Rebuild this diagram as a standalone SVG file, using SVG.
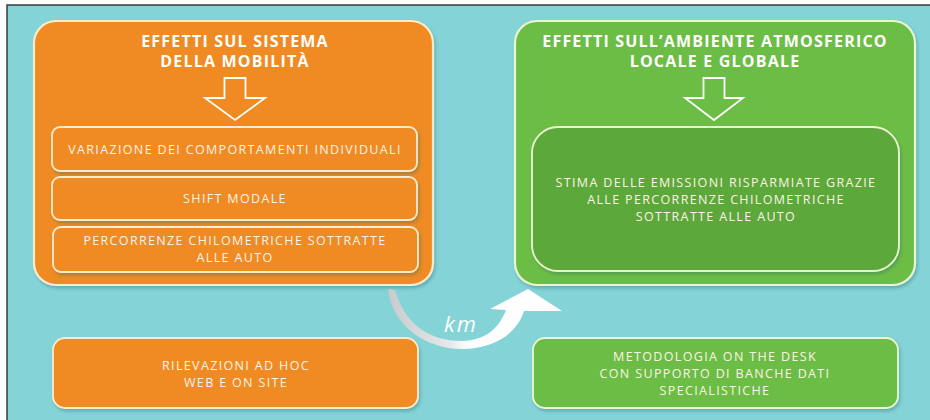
<svg xmlns="http://www.w3.org/2000/svg" width="930" height="420" viewBox="0 0 930 420">
<defs>
<style>
.bg{fill:#84d3d7}
.frame{fill:none;stroke:#3a3a3a;stroke-width:1.5}
.omain{fill:#ef8b22;stroke:#fbecd0;stroke-width:2.2}
.osub{fill:#ef8b22;stroke:#fbecd0;stroke-width:1.8}
.gmain{fill:#6cbd45;stroke:#eaf6d2;stroke-width:2.2}
.ginner{fill:#5da83a;stroke:#eaf6d2;stroke-width:1.8}
.gsub{fill:#6cbd45;stroke:#eaf6d2;stroke-width:1.8}
.title{font-family:"Open Sans","Liberation Sans",sans-serif;font-weight:bold;font-size:16px;fill:#ffffff;text-anchor:middle;letter-spacing:1.2px}
.body{font-family:"Open Sans","Liberation Sans",sans-serif;font-size:12.5px;fill:#fdf3e6;text-anchor:middle;letter-spacing:1.35px}
.hollow{fill:none;stroke:#ffffff;stroke-width:1.8;stroke-linejoin:miter}
.km{font-family:"Open Sans","Liberation Sans",sans-serif;font-style:italic;font-size:22px;fill:#ffffff;letter-spacing:2px}
</style>
<filter id="sh" x="-5%" y="-5%" width="110%" height="115%">
<feDropShadow dx="1.5" dy="2.5" stdDeviation="1.8" flood-color="#2c6a6c" flood-opacity="0.35"/>
</filter>
<linearGradient id="kmg" gradientUnits="userSpaceOnUse" x1="388" y1="0" x2="470" y2="0">
<stop offset="0" stop-color="#c7cbcd"/>
<stop offset="0.75" stop-color="#e6e8e9"/>
<stop offset="1" stop-color="#ffffff"/>
</linearGradient>
</defs>
<rect x="0" y="0" width="930" height="420" fill="#ffffff"/>
<rect class="bg" x="7" y="5" width="923" height="415"/>
<path class="frame" d="M7 420 V5 H930"/>

<g id="orange-main">
<rect class="omain" x="34" y="21" width="399" height="264" rx="22" filter="url(#sh)"/>
<text class="title" x="235" y="47">EFFETTI SUL SISTEMA</text>
<text class="title" x="235" y="67">DELLA MOBILITÀ</text>
<path class="hollow" d="M224.5 78 H245.5 V98 H265 L235 120 L205 98 H224.5 Z"/>
</g>

<g id="box-variazione">
<rect class="osub" x="52" y="127" width="365" height="44" rx="8" filter="url(#sh)"/>
<text class="body" x="235" y="154">VARIAZIONE DEI COMPORTAMENTI INDIVIDUALI</text>
</g>

<g id="box-shift">
<rect class="osub" x="52" y="177" width="365" height="43" rx="8" filter="url(#sh)"/>
<text class="body" x="235" y="203">SHIFT MODALE</text>
</g>

<g id="box-percorrenze">
<rect class="osub" x="53" y="227" width="365" height="45" rx="8" filter="url(#sh)"/>
<text class="body" x="235" y="245">PERCORRENZE CHILOMETRICHE SOTTRATTE</text>
<text class="body" x="235" y="262">ALLE AUTO</text>
</g>

<g id="box-rilevazioni">
<rect class="osub" x="53" y="338" width="365" height="70" rx="12" filter="url(#sh)"/>
<text class="body" x="236" y="370">RILEVAZIONI AD HOC</text>
<text class="body" x="236" y="387">WEB E ON SITE</text>
</g>

<g id="green-main">
<rect class="gmain" x="515" y="21" width="400" height="264" rx="22" filter="url(#sh)"/>
<text class="title" x="715" y="47">EFFETTI SULL’AMBIENTE ATMOSFERICO</text>
<text class="title" x="715" y="67">LOCALE E GLOBALE</text>
<path class="hollow" d="M703.5 78 H724.5 V98 H743 L714 120 L685 98 H703.5 Z"/>
</g>

<g id="box-stima">
<rect class="ginner" x="532" y="127" width="367" height="144" rx="26" filter="url(#sh)"/>
<text class="body" x="716" y="187">STIMA DELLE EMISSIONI RISPARMIATE GRAZIE</text>
<text class="body" x="716" y="204">ALLE PERCORRENZE  CHILOMETRICHE</text>
<text class="body" x="716" y="221">SOTTRATTE ALLE AUTO</text>
</g>

<g id="box-metodologia">
<rect class="gsub" x="533" y="338" width="365" height="70" rx="12" filter="url(#sh)"/>
<text class="body" x="715" y="361">METODOLOGIA ON THE DESK</text>
<text class="body" x="715" y="378">CON SUPPORTO DI BANCHE DATI</text>
<text class="body" x="715" y="395">SPECIALISTICHE</text>
</g>

<g id="connectors">
<path fill="url(#kmg)" d="M388 289 C392 325 425 350 465 349 C500 347 518 330 524 311 L562 311 L528 289 L490 309 L506 310 C498 330 485 340 462 341 C430 341 405 325 395 290 Z"/>
<text class="km" x="444" y="332">km</text>
</g>
</svg>
